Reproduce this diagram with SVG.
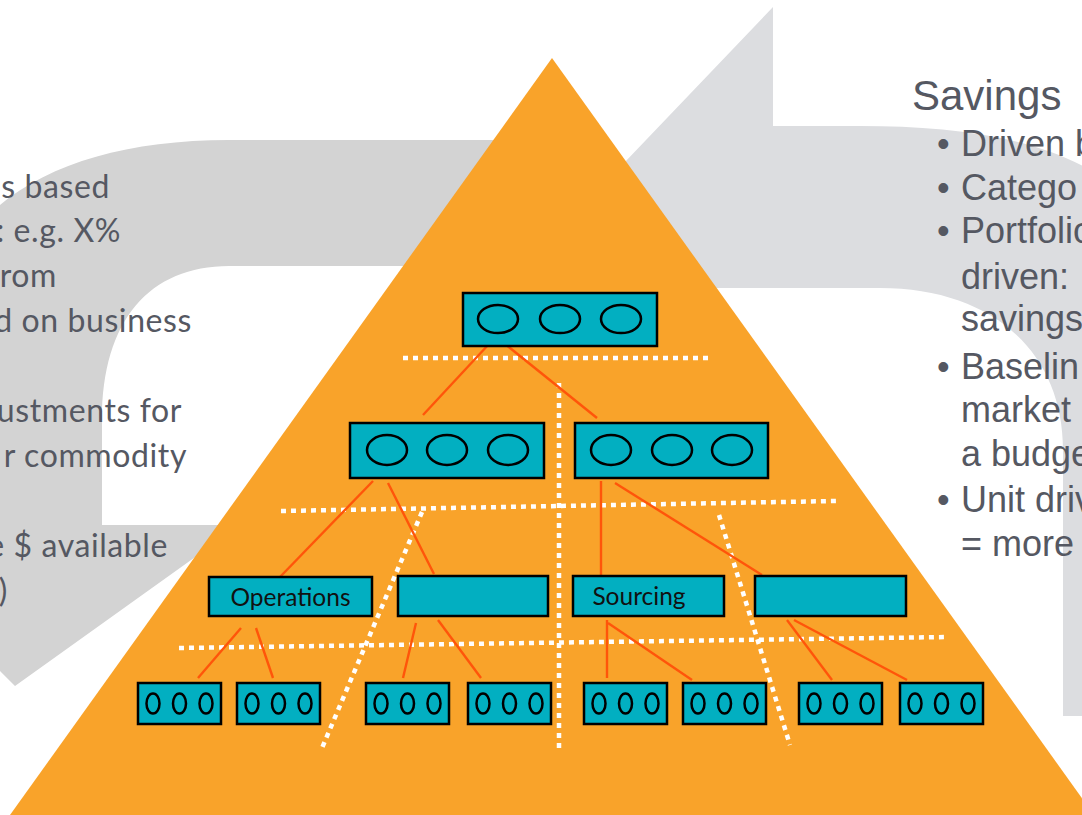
<svg xmlns="http://www.w3.org/2000/svg" width="1082" height="815" viewBox="0 0 1082 815">
<style>
.box{fill:#02afc1;stroke:#000;stroke-width:2.5}
.ov{fill:none;stroke:#000;stroke-width:2.5}
.con{stroke:#ff550a;stroke-width:2.4;fill:none}
.dot{stroke:#fff;stroke-width:4.5;stroke-dasharray:5 5;fill:none}
.lt{font-family:Lato,"Open Sans",sans-serif;font-size:32px;fill:#555862;text-anchor:end;letter-spacing:0.6px}
.rt{font-family:"Liberation Sans",Arial,sans-serif;font-size:36px;fill:#555862}
.lab{font-family:Lato,"Open Sans",sans-serif;font-size:24.5px;fill:#111}
</style>
<rect width="1082" height="815" fill="#fff"/>
<g id="bg-arrows">
<path d="M 0,205 C 50,163 130,140 229,140 L 560,140 L 560,266 L 229,266 C 150,266 102,320 102,420 L 102,525 L 240,525 L 15,686 L 0,671 Z" fill="#d3d3d3"/>
<path d="M 773,7 L 773,126 L 860,126 C 1000,126 1120,150 1180,260 L 1180,716 L 1063,716 L 1063,450 C 1063,350 990,288 880,288 L 773,288 L 600,288 L 560,230 Z" fill="#dcdde0"/>
</g>
<g id="left-text">
<text class="lt" x="110" y="198">s based</text>
<text class="lt" x="121" y="242">: e.g. X%</text>
<text class="lt" x="57" y="287">rom</text>
<text class="lt" x="192" y="332">d on business</text>
<text class="lt" x="182" y="422">ustments for</text>
<text class="lt" x="187" y="467">r commodity</text>
<text class="lt" x="168" y="557">e $ available</text>
<text class="lt" x="8" y="602">)</text>
</g>
<g id="right-text">
<text class="rt" x="912" y="110" style="font-size:42px">Savings</text>
<text class="rt" x="937" y="156">•</text><text class="rt" x="961" y="156">Driven b</text>
<text class="rt" x="937" y="200">•</text><text class="rt" x="961" y="200">Catego</text>
<text class="rt" x="937" y="243">•</text><text class="rt" x="961" y="243">Portfolio</text>
<text class="rt" x="961" y="289">driven:</text>
<text class="rt" x="961" y="331">savings</text>
<text class="rt" x="937" y="379">•</text><text class="rt" x="961" y="379">Baselin</text>
<text class="rt" x="961" y="422">market</text>
<text class="rt" x="961" y="466">a budge</text>
<text class="rt" x="937" y="512">•</text><text class="rt" x="961" y="512">Unit driv</text>
<text class="rt" x="961" y="556">= more</text>
</g>
<polygon id="pyramid" points="552,58 10,815 1094,815" fill="#f9a32a"/>
<g id="dividers">
<line class="dot" x1="403" y1="358" x2="708" y2="358"/>
<line class="dot" x1="281" y1="511" x2="836" y2="501"/>
<line class="dot" x1="179" y1="648" x2="948" y2="637"/>
<line class="dot" x1="559" y1="383" x2="559" y2="748"/>
<line class="dot" x1="422" y1="512" x2="322" y2="748"/>
<line class="dot" x1="719" y1="515" x2="790" y2="745"/>
</g>
<g id="connectors">
<line class="con" x1="489" y1="344" x2="423" y2="415"/>
<line class="con" x1="505" y1="344" x2="597" y2="418"/>
<line class="con" x1="373" y1="481" x2="280" y2="577"/>
<line class="con" x1="388" y1="483" x2="434" y2="574"/>
<line class="con" x1="601" y1="481" x2="601" y2="575"/>
<line class="con" x1="615" y1="483" x2="762" y2="575"/>
<line class="con" x1="241" y1="628" x2="198" y2="678"/>
<line class="con" x1="256" y1="628" x2="273" y2="678"/>
<line class="con" x1="416" y1="623" x2="403" y2="678"/>
<line class="con" x1="438" y1="620" x2="481" y2="678"/>
<line class="con" x1="607" y1="620" x2="607" y2="678"/>
<line class="con" x1="608" y1="623" x2="692" y2="680"/>
<line class="con" x1="787" y1="620" x2="832" y2="680"/>
<line class="con" x1="794" y1="620" x2="907" y2="680"/>
</g>
<g id="n-top">
<rect class="box" x="463" y="293" width="194" height="53"/>
<ellipse class="ov" cx="498" cy="319" rx="20" ry="14"/>
<ellipse class="ov" cx="560" cy="319" rx="20" ry="14"/>
<ellipse class="ov" cx="621" cy="319" rx="20" ry="14"/>
</g>
<g id="n-mid-left">
<rect class="box" x="350" y="423" width="194" height="55"/>
<ellipse class="ov" cx="387" cy="450" rx="20" ry="15"/>
<ellipse class="ov" cx="447" cy="450" rx="20" ry="15"/>
<ellipse class="ov" cx="508" cy="450" rx="20" ry="15"/>
</g>
<g id="n-mid-right">
<rect class="box" x="575" y="423" width="193" height="55"/>
<ellipse class="ov" cx="611" cy="450" rx="20" ry="15"/>
<ellipse class="ov" cx="672" cy="450" rx="20" ry="15"/>
<ellipse class="ov" cx="732" cy="450" rx="20" ry="15"/>
</g>
<g id="n-operations">
<rect class="box" x="209" y="577" width="163" height="39"/>
<text class="lab" x="290.5" y="606" text-anchor="middle">Operations</text>
</g>
<g id="n-l3-2"><rect class="box" x="398" y="576" width="150" height="40"/></g>
<g id="n-sourcing">
<rect class="box" x="573" y="576" width="151" height="40"/>
<text class="lab" x="639" y="605" text-anchor="middle">Sourcing</text>
</g>
<g id="n-l3-4"><rect class="box" x="755" y="576" width="151" height="40"/></g>
<g id="n-b1"><rect class="box" x="138" y="683" width="83" height="41"/><ellipse class="ov" cx="153" cy="703.5" rx="6.5" ry="10"/><ellipse class="ov" cx="179.5" cy="703.5" rx="6.5" ry="10"/><ellipse class="ov" cx="206" cy="703.5" rx="6.5" ry="10"/></g>
<g id="n-b2"><rect class="box" x="237" y="683" width="83" height="41"/><ellipse class="ov" cx="252" cy="703.5" rx="6.5" ry="10"/><ellipse class="ov" cx="278.5" cy="703.5" rx="6.5" ry="10"/><ellipse class="ov" cx="305" cy="703.5" rx="6.5" ry="10"/></g>
<g id="n-b3"><rect class="box" x="366" y="683" width="83" height="41"/><ellipse class="ov" cx="381" cy="703.5" rx="6.5" ry="10"/><ellipse class="ov" cx="407.5" cy="703.5" rx="6.5" ry="10"/><ellipse class="ov" cx="434" cy="703.5" rx="6.5" ry="10"/></g>
<g id="n-b4"><rect class="box" x="468" y="683" width="83" height="41"/><ellipse class="ov" cx="483" cy="703.5" rx="6.5" ry="10"/><ellipse class="ov" cx="509.5" cy="703.5" rx="6.5" ry="10"/><ellipse class="ov" cx="536" cy="703.5" rx="6.5" ry="10"/></g>
<g id="n-b5"><rect class="box" x="584" y="683" width="83" height="41"/><ellipse class="ov" cx="599" cy="703.5" rx="6.5" ry="10"/><ellipse class="ov" cx="625.5" cy="703.5" rx="6.5" ry="10"/><ellipse class="ov" cx="652" cy="703.5" rx="6.5" ry="10"/></g>
<g id="n-b6"><rect class="box" x="683" y="683" width="83" height="41"/><ellipse class="ov" cx="698" cy="703.5" rx="6.5" ry="10"/><ellipse class="ov" cx="724.5" cy="703.5" rx="6.5" ry="10"/><ellipse class="ov" cx="751" cy="703.5" rx="6.5" ry="10"/></g>
<g id="n-b7"><rect class="box" x="799" y="683" width="83" height="41"/><ellipse class="ov" cx="814" cy="703.5" rx="6.5" ry="10"/><ellipse class="ov" cx="840.5" cy="703.5" rx="6.5" ry="10"/><ellipse class="ov" cx="867" cy="703.5" rx="6.5" ry="10"/></g>
<g id="n-b8"><rect class="box" x="900" y="683" width="83" height="41"/><ellipse class="ov" cx="915" cy="703.5" rx="6.5" ry="10"/><ellipse class="ov" cx="941.5" cy="703.5" rx="6.5" ry="10"/><ellipse class="ov" cx="968" cy="703.5" rx="6.5" ry="10"/></g>
</svg>
